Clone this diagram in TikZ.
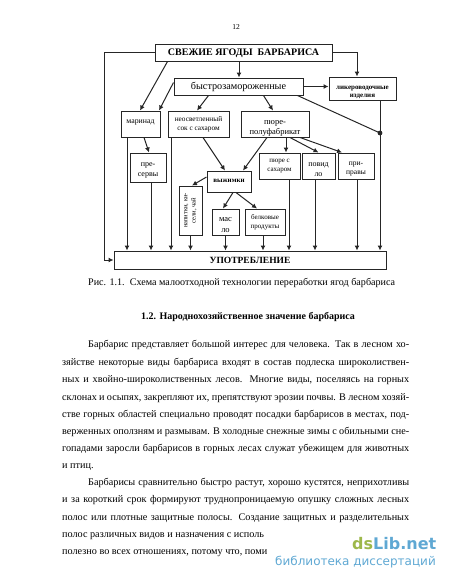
\documentclass[tikz,border=0pt]{standalone}
\usepackage{fontspec}
\setmainfont{Liberation Serif}
\newfontfamily\wmfont{DejaVu Sans}
\usepackage{tikz}
\usetikzlibrary{arrows.meta}
\definecolor{wmgreen}{HTML}{9DB84A}
\definecolor{wmblue}{HTML}{5FA8D3}
\newcommand{\fsize}[1]{\fontsize{#1pt}{1.25\dimexpr#1pt\relax}\selectfont}
\newcommand{\bodyline}[2]{\node[anchor=base west, inner sep=0pt] (line#1) at (62,#1) {\hbox to 347pt{#2}};}
\newcommand{\topgap}[1]{\rule{0pt}{#1pt}}
\tikzset{
	box/.style={draw=black!85, line width=1pt, fill=white, inner sep=0pt, align=center, font=\fsize{7}},
	arr/.style={->, line width=1pt, draw=black!85},
	txt/.style={anchor=base west, inner sep=0pt},
}

\begin{document}
\begin{tikzpicture}[x=1pt, y=-1pt, every node/.style={font=\fsize{10.2}}, >={Latex[length=5pt, width=5pt]}]
	\useasboundingbox (0,0) rectangle (450,582);
	\node[inner sep=0pt] (pageno) at (236,27.5) {\fsize{7.5}12};
	% boxes of the scheme
	\node[box, minimum width=177pt, minimum height=17pt, text depth=0pt, font=\fsize{10}\bfseries] (fresh) at (243.5,52.5) {СВЕЖИЕ ЯГОДЫ\ \ БАРБАРИСА};
	\node[box, minimum width=129pt, minimum height=17pt, font=\fsize{10.2}] (frozen) at (238.5,86.5) {быстрозамороженные};
	\node[box, minimum width=67pt, minimum height=23pt, font=\fsize{7}\bfseries] (liqueur) at (362.5,88.5) {\topgap{11}ликероводочные\\изделия};
	\node[box, minimum width=39pt, minimum height=26pt, font=\fsize{7.8}] (marinade) at (140.5,124) {\raisebox{5pt}{маринад}};
	\node[box, minimum width=61pt, minimum height=26pt, font=\fsize{7.3}] (juice) at (198.5,124) {неосветленный\\сок с сахаром};
	\node[box, minimum width=68pt, minimum height=26pt, font=\fsize{8.5}] (puree) at (275,124) {\topgap{13}пюре-\\полуфабрикат};
	\node[box, minimum width=36pt, minimum height=29pt, font=\fsize{8}] (preserve) at (148,167.5) {\topgap{10.5}пре-\\сервы};
	\node[box, minimum width=41pt, minimum height=26pt] (pureesug) at (279.5,166) {пюре с\\сахаром};
	\node[box, minimum width=33pt, minimum height=26pt, font=\fsize{8}] (jam) at (318.5,166) {\topgap{10.5}повид\\ло};
	\node[box, minimum width=36pt, minimum height=26pt, font=\fsize{7.5}] (season) at (356,166) {\topgap{9.5}при-\\правы};
	\node[box, minimum width=44pt, minimum height=21pt, font=\fsize{7}\bfseries] (press) at (229,181.5) {\raisebox{2pt}{выжимки}};
	\node[box, minimum width=23pt, minimum height=49pt] (drinks) at (190.5,210.5) {};
	\node[inner sep=0pt, rotate=90, align=center, font=\fsize{6.5}] (drinkstxt) at (drinks.center) {напитки, ки-\\сели, чай};
	\node[box, minimum width=27pt, minimum height=26pt, font=\fsize{8.5}] (oil) at (225.5,222) {\topgap{10}мас\\ло};
	\node[box, minimum width=40pt, minimum height=26pt] (protein) at (265,222) {белковые\\продукты};
	\node[box, minimum width=272pt, minimum height=18pt, text depth=0pt, font=\fsize{9.5}\bfseries] (use) at (250,260) {УПОТРЕБЛЕНИЕ};
	% connectors
	\coordinate (left) at (104,52.5);
	\coordinate (knot) at (380,133);
	\draw[arr] (fresh.west) -- (left) |- (use.west);
	\draw[arr] (fresh.east) -| (liqueur.north -| 357,0);
	\draw[arr] (fresh.south -| 239,0) -- (frozen.north -| 239,0);
	\draw[arr] ([xshift=13pt]fresh.south west) -- ([xshift=-0.5pt]marinade.north);
	\draw[arr] ([yshift=-5pt]frozen.north west) -- ([xshift=-1.5pt]marinade.north east);
	\draw[arr] (frozen.east) -- (liqueur.west |- frozen.east);
	\draw[arr] ([xshift=35pt]frozen.south west) -- ([xshift=-1.5pt]juice.north);
	\draw[arr] ([xshift=90pt]frozen.south west) -- ([xshift=-2pt]puree.north);
	\draw[line width=1pt, black!85] ([xshift=-6pt]frozen.south east) -- (knot);
	\fill[black!85] (knot) circle (2.4pt);
	\draw[line width=1pt, black!85] (liqueur.south -| knot) -- (knot);
	\draw[arr] (knot) -- (knot |- use.north);
	\draw[arr] ([xshift=3.5pt]marinade.south) -- ([xshift=1pt]preserve.north);
	\draw[arr] ([xshift=4.5pt]juice.south) -- ([xshift=-4pt]press.north);
	\draw[arr] ([xshift=-8pt]puree.south) -- ([xshift=14pt]press.north);
	\draw[arr] ([xshift=11pt]puree.south) -- ([xshift=6.5pt]pureesug.north);
	\draw[arr] ([xshift=15pt]puree.south) -- (jam.north);
	\draw[arr] ([xshift=25pt]puree.south) -- ([xshift=-14pt]season.north);
	\draw[arr] ([yshift=4.5pt]press.west) -- ([xshift=1.5pt]drinks.north);
	\draw[arr] ([xshift=4pt]press.south) -- ([xshift=-2.5pt]oil.north);
	\draw[arr] ([xshift=7pt]press.south) -- ([xshift=-8pt]protein.north);
	\draw[arr] ([xshift=-13.5pt]marinade.south) -- ([xshift=-13.5pt]marinade.south |- use.north);
	\draw[arr] ([xshift=3pt]preserve.south) -- ([xshift=3pt]preserve.south |- use.north);
	\draw[arr] ([xshift=-27.5pt]juice.south) -- ([xshift=-27.5pt]juice.south |- use.north);
	\draw[arr] (drinks.south) -- (drinks.south |- use.north);
	\draw[arr] (oil.south) -- (oil.south |- use.north);
	\draw[arr] ([xshift=-2pt]protein.south) -- ([xshift=-2pt]protein.south |- use.north);
	\draw[arr] ([xshift=9.5pt]pureesug.south) -- ([xshift=9.5pt]pureesug.south |- use.north);
	\draw[arr] ([xshift=-3.5pt]jam.south) -- ([xshift=-3.5pt]jam.south |- use.north);
	\draw[arr] ([xshift=1pt]season.south) -- ([xshift=1pt]season.south |- use.north);
	% text of the page
	\node[txt] (caption) at (88,285) {\fsize{10.1}Рис. 1.1.\ \ Схема малоотходной технологии переработки ягод барбариса};
	\node[txt, font=\fsize{10}\bfseries] (title) at (141,319) {1.2. Народнохозяйственное значение барбариса};
	\bodyline{347}{\hspace{26pt}Барбарис представляет большой интерес для человека. Так в лесном хо-}
	\bodyline{365}{зяйстве некоторые виды барбариса входят в состав подлеска широколиствен-}
	\bodyline{382}{ных и хвойно-широколиственных лесов. Многие виды, поселяясь на горных}
	\bodyline{400}{склонах и осыпях, закрепляют их, препятствуют эрозии почвы. В лесном хозяй-}
	\bodyline{417}{стве горных областей специально проводят посадки барбарисов в местах, под-}
	\bodyline{434}{верженных оползням и размывам. В холодные снежные зимы с обильными сне-}
	\bodyline{451}{гопадами заросли барбарисов в горных лесах служат убежищем для животных}
	\node[txt] (birds) at (62,468) {и птиц.};
	\bodyline{485}{\hspace{26pt}Барбарисы сравнительно быстро растут, хорошо кустятся, неприхотливы}
	\bodyline{502}{и за короткий срок формируют труднопроницаемую опушку сложных лесных}
	\bodyline{520}{полос или плотные защитные полосы. Создание защитных и разделительных}
	\node[txt] (cut1) at (62,537) {полос различных видов и назначения с исполь};
	\node[txt] (cut2) at (62,554) {полезно во всех отношениях, потому что, поми};
	% watermark
	\node[txt, font=\wmfont\fsize{16}\bfseries] (wm) at (352,549) {\textcolor{wmgreen}{ds}\textcolor{wmblue}{Lib.net}};
	\node[txt, font=\wmfont\fsize{12}, text=wmblue] (wmsub) at (275,565) {библиотека диссертаций};
\end{tikzpicture}
\end{document}
